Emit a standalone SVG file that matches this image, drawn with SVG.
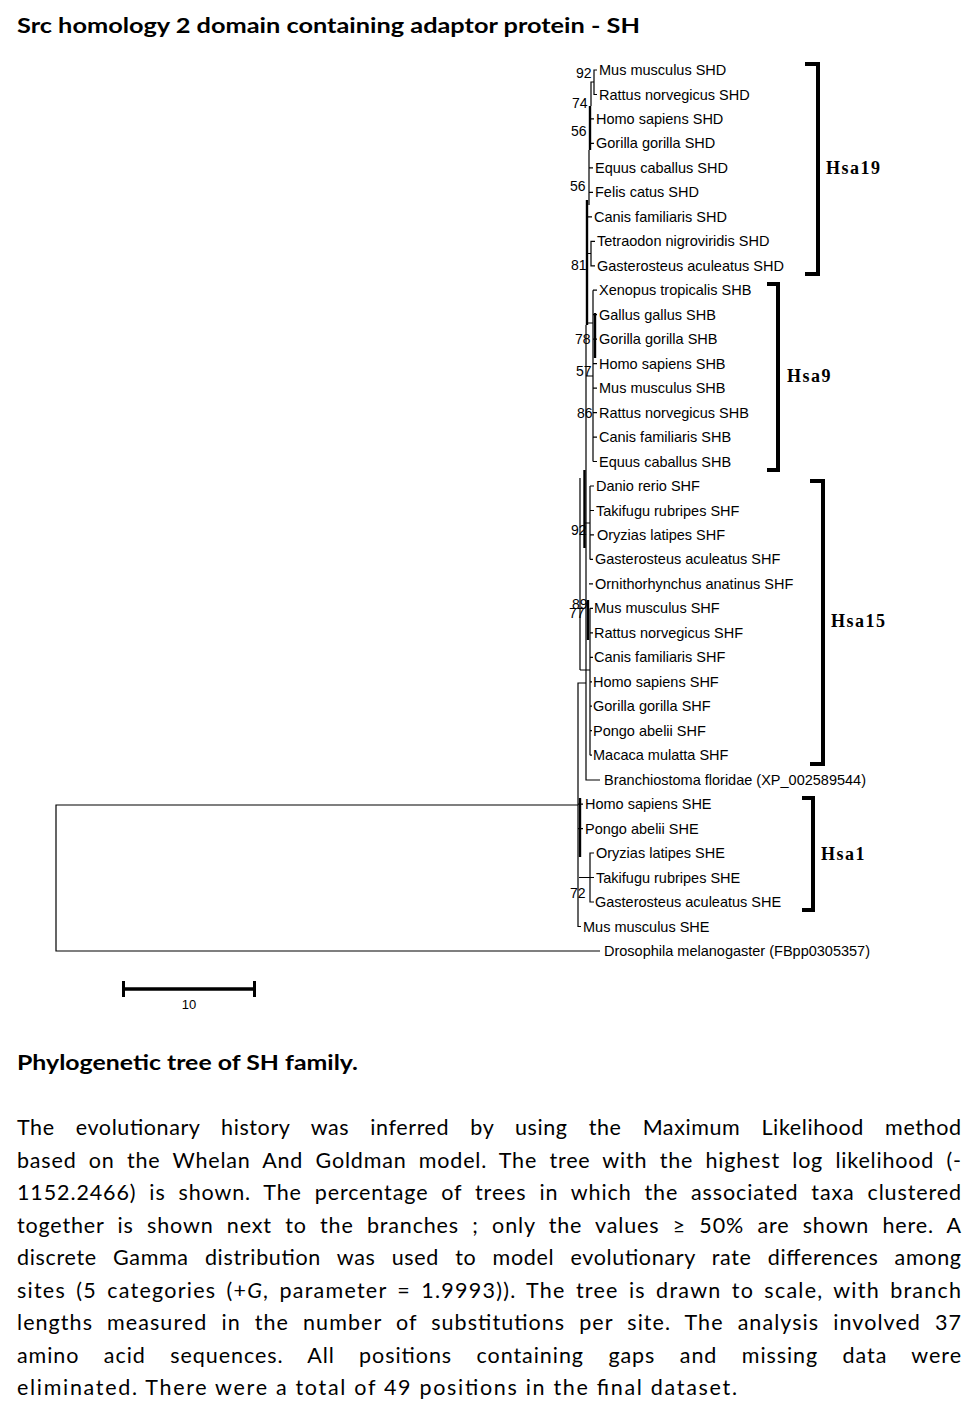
<svg xmlns="http://www.w3.org/2000/svg" width="978" height="1420" viewBox="0 0 978 1420">
<style>
.leaf{font-family:"Liberation Sans",Arial,sans-serif;font-size:14.5px;fill:#000}
.bs{font-family:"Liberation Sans",Arial,sans-serif;font-size:14px;fill:#000}
.grp{font-family:"Liberation Serif","Times New Roman",serif;font-size:18px;font-weight:bold;letter-spacing:1.5px;fill:#000}
.br{stroke:#000;stroke-width:1.2;fill:none}
.thk{stroke:#000;stroke-width:2.4;fill:none}
.brk{stroke:#000;stroke-width:4;fill:none}
.head{font-family:Lato,"Open Sans",sans-serif;font-size:20px;font-weight:bold;fill:#000}
.para{font-family:Lato,"Open Sans",sans-serif;font-size:21.5px;fill:#000}
</style>
<rect width="978" height="1420" fill="#fff"/>
<g id="title"><text class="head" x="17" y="33" textLength="623" lengthAdjust="spacingAndGlyphs">Src homology 2 domain containing adaptor protein - SH</text></g>

<g id="connectors">
<path class="br" d="M578,805 H56 V951 H600"/>
<path class="br" d="M597,70 H594 V94.5 H597 M594,82 H591 V106"/>
<path class="thk" d="M590,106 V150"/>
<path class="br" d="M590,118.9 H594 M590,143.4 H594 M589,150 V205 M589,167.9 H593 M589,192.4 H593"/>
<path class="thk" d="M587,200 V325"/>
<path class="br" d="M587,216.8 H592 M595,241.3 H591 V265.8 H595 M587,253.5 H591"/>
<path class="br" d="M593,290.2 V461.5 M593,290.2 H597 M593,314.7 H597 M593,339.2 H597 M593,363.6 H597 M593,388.1 H597 M593,412.6 H597 M593,437.1 H597 M593,461.5 H597 M587,323 H593 M586,376 H593"/>
<path class="thk" d="M595,313 V358"/>
<path class="br" d="M586,325 V780 H600"/>
<path class="br" d="M590,486 V559.4 M590,486 H594 M590,510.5 H594 M590,534.9 H594 M590,559.4 H593 M584,523 H590"/>
<path class="br" d="M580,478 V670 M580,670 H590 M589,583.9 H593 M590,608.3 V755.2 M590,608.3 H593 M590,632.8 H593 M590,657.3 H593 M590,681.8 H592 M590,706.2 H592 M590,730.7 H592 M590,755.2 H592"/>
<path class="thk" d="M584.5,470 V548 M588,600 V640"/>
<path class="br" d="M586,683 H578 V926.5 H581 M578,804.1 H583 M578,828.6 H583 M579,877.5 H590 M594,853 H590 V902 H594 M590,877.5 H594"/>
<path class="thk" d="M580,798 V857"/>
</g>

<g id="brackets">
<path class="brk" d="M805,64 H818 V274 H805"/>
<path class="brk" d="M767,284 H778 V470 H767"/>
<path class="brk" d="M810,481 H823 V764 H810"/>
<path class="brk" d="M802,798 H813 V910 H802"/>
</g>
<g id="g-hsa19"><text class="grp" x="826" y="174">Hsa19</text></g>
<g id="g-hsa9"><text class="grp" x="787" y="382">Hsa9</text></g>
<g id="g-hsa15"><text class="grp" x="831" y="627">Hsa15</text></g>
<g id="g-hsa1"><text class="grp" x="821" y="860">Hsa1</text></g>

<g id="bootstrap">
<text class="bs" x="576" y="78">92</text>
<text class="bs" x="572" y="108">74</text>
<text class="bs" x="571" y="136">56</text>
<text class="bs" x="570" y="191">56</text>
<text class="bs" x="571" y="270">81</text>
<text class="bs" x="575" y="344">78</text>
<text class="bs" x="576" y="376">57</text>
<text class="bs" x="577" y="418">86</text>
<text class="bs" x="571" y="535">92</text>
<text class="bs" x="572" y="609">89</text>
<text class="bs" x="569" y="618">77</text>
<text class="bs" x="570" y="898">72</text>
</g>

<g id="n1"><text class="leaf" x="599" y="75">Mus musculus SHD</text></g>
<g id="n2"><text class="leaf" x="599" y="99.5">Rattus norvegicus SHD</text></g>
<g id="n3"><text class="leaf" x="596" y="124">Homo sapiens SHD</text></g>
<g id="n4"><text class="leaf" x="596" y="148.4">Gorilla gorilla SHD</text></g>
<g id="n5"><text class="leaf" x="595" y="172.9">Equus caballus SHD</text></g>
<g id="n6"><text class="leaf" x="595" y="197.4">Felis catus SHD</text></g>
<g id="n7"><text class="leaf" x="594" y="221.8">Canis familiaris SHD</text></g>
<g id="n8"><text class="leaf" x="597" y="246.3">Tetraodon nigroviridis SHD</text></g>
<g id="n9"><text class="leaf" x="597" y="270.8">Gasterosteus aculeatus SHD</text></g>
<g id="n10"><text class="leaf" x="599" y="295.2">Xenopus tropicalis SHB</text></g>
<g id="n11"><text class="leaf" x="599" y="319.7">Gallus gallus SHB</text></g>
<g id="n12"><text class="leaf" x="599" y="344.2">Gorilla gorilla SHB</text></g>
<g id="n13"><text class="leaf" x="599" y="368.6">Homo sapiens SHB</text></g>
<g id="n14"><text class="leaf" x="599" y="393.1">Mus musculus SHB</text></g>
<g id="n15"><text class="leaf" x="599" y="417.6">Rattus norvegicus SHB</text></g>
<g id="n16"><text class="leaf" x="599" y="442.1">Canis familiaris SHB</text></g>
<g id="n17"><text class="leaf" x="599" y="466.5">Equus caballus SHB</text></g>
<g id="n18"><text class="leaf" x="596" y="491">Danio rerio SHF</text></g>
<g id="n19"><text class="leaf" x="596" y="515.5">Takifugu rubripes SHF</text></g>
<g id="n20"><text class="leaf" x="597" y="539.9">Oryzias latipes SHF</text></g>
<g id="n21"><text class="leaf" x="595" y="564.4">Gasterosteus aculeatus SHF</text></g>
<g id="n22"><text class="leaf" x="595" y="588.9">Ornithorhynchus anatinus SHF</text></g>
<g id="n23"><text class="leaf" x="594" y="613.3">Mus musculus SHF</text></g>
<g id="n24"><text class="leaf" x="594" y="637.8">Rattus norvegicus SHF</text></g>
<g id="n25"><text class="leaf" x="594" y="662.3">Canis familiaris SHF</text></g>
<g id="n26"><text class="leaf" x="593" y="686.8">Homo sapiens SHF</text></g>
<g id="n27"><text class="leaf" x="593" y="711.2">Gorilla gorilla SHF</text></g>
<g id="n28"><text class="leaf" x="593" y="735.7">Pongo abelii SHF</text></g>
<g id="n29"><text class="leaf" x="593" y="760.2">Macaca mulatta SHF</text></g>
<g id="n30"><text class="leaf" x="604" y="784.6">Branchiostoma floridae (XP_002589544)</text></g>
<g id="n31"><text class="leaf" x="585" y="809.1">Homo sapiens SHE</text></g>
<g id="n32"><text class="leaf" x="585" y="833.6">Pongo abelii SHE</text></g>
<g id="n33"><text class="leaf" x="596" y="858">Oryzias latipes SHE</text></g>
<g id="n34"><text class="leaf" x="596" y="882.5">Takifugu rubripes SHE</text></g>
<g id="n35"><text class="leaf" x="595" y="907">Gasterosteus aculeatus SHE</text></g>
<g id="n36"><text class="leaf" x="583" y="931.5">Mus musculus SHE</text></g>
<g id="n37"><text class="leaf" x="604" y="955.9">Drosophila melanogaster (FBpp0305357)</text></g>

<g id="scalebar">
<path d="M123,989 H255" stroke="#000" stroke-width="3.5" fill="none"/>
<path d="M123.5,981 V997 M254.5,981 V997" stroke="#000" stroke-width="3" fill="none"/>
<text class="bs" x="189" y="1009" text-anchor="middle" style="font-size:13px">10</text>
</g>

<g id="caption">
<text class="head" x="17" y="1070" textLength="341" lengthAdjust="spacingAndGlyphs">Phylogenetic tree of SH family.</text>
<text class="para" x="17" y="1135" word-spacing="15" textLength="944" lengthAdjust="spacing">The evolutionary history was inferred by using the Maximum Likelihood method</text>
<text class="para" x="17" y="1167.5" word-spacing="6" textLength="944" lengthAdjust="spacing">based on the Whelan And Goldman model. The tree with the highest log likelihood (-</text>
<text class="para" x="17" y="1200" word-spacing="6.5" textLength="944" lengthAdjust="spacing">1152.2466) is shown. The percentage of trees in which the associated taxa clustered</text>
<text class="para" x="17" y="1232.5" word-spacing="7" textLength="944" lengthAdjust="spacing">together is shown next to the branches ; only the values ≥ 50% are shown here. A</text>
<text class="para" x="17" y="1265" word-spacing="10" textLength="944" lengthAdjust="spacing">discrete Gamma distribution was used to model evolutionary rate differences among</text>
<text class="para" x="17" y="1297.5" word-spacing="3.5" textLength="944" lengthAdjust="spacing">sites (5 categories (+<tspan font-style="italic">G</tspan>, parameter = 1.9993)). The tree is drawn to scale, with branch</text>
<text class="para" x="17" y="1330" word-spacing="7.5" textLength="944" lengthAdjust="spacing">lengths measured in the number of substitutions per site. The analysis involved 37</text>
<text class="para" x="17" y="1362.5" word-spacing="18" textLength="944" lengthAdjust="spacing">amino acid sequences. All positions containing gaps and missing data were</text>
<text class="para" x="17" y="1395" textLength="720" lengthAdjust="spacing">eliminated. There were a total of 49 positions in the final dataset.</text>
</g>
</svg>
